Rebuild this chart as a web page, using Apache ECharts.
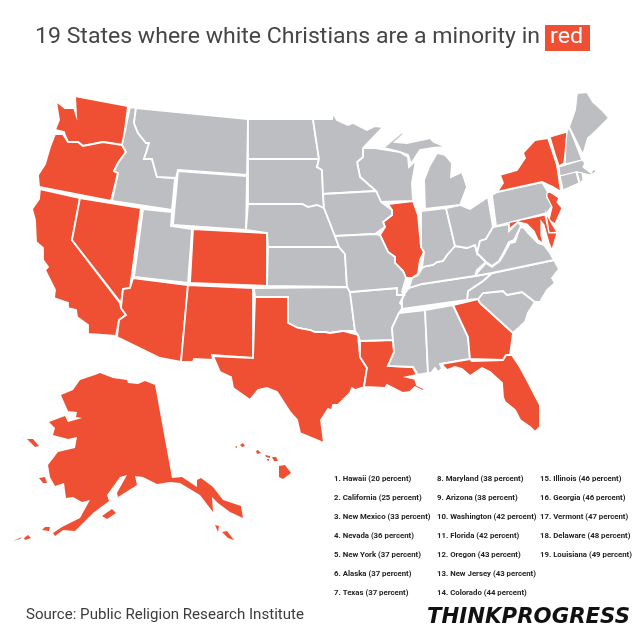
<!DOCTYPE html>
<html>
<head>
<meta charset="utf-8">
<style>html,body{margin:0;padding:0;background:#fff}#chart{width:638px;height:635px}</style>
<script src="https://cdn.jsdelivr.net/npm/echarts@6/dist/echarts.min.js"></script>
</head>
<body>
<div id="chart"></div>
<script>
// ranking shown in the list at bottom right
const rankedStates = ['Hawaii','California','New Mexico','Nevada','New York','Alaska','Texas','Maryland','Arizona','Washington','Florida','Oregon','New Jersey','Colorado','Illinois','Georgia','Vermont','Delaware','Louisiana'];
const percents = [20,25,33,36,37,37,37,38,38,42,42,43,43,44,46,46,47,48,49];
const titleText = '19 States where white Christians are a minority in';
const sourceText = 'Source: Public Religion Research Institute';
const RED = '#EF5033';
const GREY = '#BDBEC2';

// outlines, units are the picture's own pixels
const stateShapes = {
  Washington: [[[75,96],[128,106],[123,145],[103,142],[83,146],[78,142],[68,142],[65,135],[64,132],[55,130],[59,120],[56,101],[65,108],[74,108],[76,114]]],
  Oregon: [[[55,134],[63,134],[68,142],[78,142],[83,146],[103,142],[122,145],[126,152],[118,163],[114,171],[118,173],[111,201],[39,187],[38,175],[45,164],[50,147]]],
  California: [[[40,189],[80,198],[72,240],[120,303],[121,308],[126,315],[119,320],[116,336],[88,334],[88,325],[77,317],[76,310],[68,308],[68,303],[54,298],[55,290],[45,270],[48,267],[43,260],[43,248],[36,242],[35,220],[32,209],[39,199]]],
  Nevada: [[[80,198],[141,208],[130,288],[123,289],[121,303],[72,240]]],
  Arizona: [[[133,278],[188,285],[181,362],[160,358],[117,337],[116,336],[119,320],[126,315],[121,308],[123,289],[130,288]]],
  'New Mexico': [[[188,285],[253,288],[253,358],[212,355],[213,360],[194,359],[193,362],[181,362]]],
  Colorado: [[[193,229],[267,233],[267,286],[190,283]]],
  Utah: [[[143,209],[172,212],[171,226],[192,229],[188,283],[134,277]]],
  Wyoming: [[[178,171],[247,176],[246,230],[173,225]]],
  Idaho: [[[130,107],[136,108],[134,123],[138,133],[146,143],[149,143],[147,150],[144,159],[152,159],[157,177],[175,178],[172,210],[112,201],[118,173],[114,171],[118,163],[126,152],[122,145]]],
  Montana: [[[136,108],[248,119],[247,175],[178,170],[176,178],[157,177],[152,159],[144,159],[147,150],[149,143],[146,143],[138,133],[134,123]]],
  'North Dakota': [[[248,119],[313,119],[315,133],[319,159],[248,159]]],
  'South Dakota': [[[248,159],[319,159],[317,167],[322,170],[323,194],[324,208],[320,207],[308,207],[302,204],[248,204]]],
  Nebraska: [[[248,204],[302,204],[308,207],[317,205],[324,208],[335,236],[339,247],[268,247],[267,233],[246,230]]],
  Kansas: [[[268,247],[339,247],[345,254],[347,287],[267,286]]],
  Oklahoma: [[[254,288],[347,287],[350,292],[355,331],[343,331],[330,333],[325,332],[315,332],[310,330],[298,328],[288,323],[288,297],[255,297]]],
  Texas: [[[255,297],[288,297],[288,323],[298,328],[310,330],[315,332],[325,332],[330,333],[343,331],[358,335],[360,357],[367,368],[364,387],[355,390],[352,388],[350,393],[338,405],[333,405],[332,410],[328,409],[323,417],[321,420],[324,443],[300,433],[297,420],[290,412],[277,392],[267,388],[258,390],[250,400],[233,388],[231,377],[220,372],[213,356],[253,358]]],
  Louisiana: [[[360,341],[393,340],[394,352],[388,366],[413,367],[417,375],[407,377],[415,379],[417,385],[425,389],[423,391],[415,387],[410,392],[403,393],[397,390],[387,385],[385,388],[364,387],[367,368],[360,357]]],
  Arkansas: [[[350,292],[397,288],[397,295],[404,295],[400,303],[403,307],[399,313],[392,328],[393,340],[360,341],[358,335],[355,331]]],
  Mississippi: [[[425,310],[428,373],[418,375],[413,367],[388,366],[394,352],[392,328],[399,313]]],
  Alabama: [[[425,310],[453,305],[468,337],[470,359],[440,364],[442,369],[438,372],[435,368],[431,373],[428,373]]],
  Georgia: [[[453,305],[478,299],[480,303],[513,333],[510,355],[506,355],[503,360],[470,359],[468,337]]],
  Florida: [[[441,364],[470,359],[472,361],[503,360],[506,355],[512,355],[520,367],[527,380],[540,405],[540,427],[535,432],[530,427],[520,420],[515,410],[505,402],[503,397],[502,383],[490,372],[482,368],[470,376],[462,369],[455,367],[447,370]]],
  'South Carolina': [[[478,299],[483,293],[503,291],[507,295],[522,292],[535,302],[528,313],[525,322],[513,333],[480,303]]],
  'North Carolina': [[[492,273],[554,260],[559,269],[552,278],[555,283],[547,290],[540,302],[535,302],[522,292],[507,295],[503,291],[483,293],[478,299],[467,300],[468,291],[483,281]]],
  Tennessee: [[[409,288],[422,284],[475,276],[492,273],[483,281],[468,291],[467,300],[402,309],[402,300],[405,293]]],
  Kentucky: [[[409,288],[412,278],[418,275],[422,268],[426,266],[433,265],[437,262],[443,261],[447,255],[455,246],[467,248],[475,245],[477,253],[486,262],[477,270],[475,276],[422,284]]],
  Illinois: [[[388,204],[413,201],[418,215],[421,247],[424,252],[420,260],[418,274],[412,278],[406,278],[403,271],[395,263],[395,257],[388,252],[380,235],[385,227],[383,222],[392,215],[392,210]]],
  Indiana: [[[421,211],[446,208],[455,246],[447,255],[443,261],[437,262],[433,265],[426,266],[422,268],[424,252],[421,247]]],
  Ohio: [[[446,208],[460,205],[470,209],[488,197],[493,227],[486,239],[480,241],[477,253],[475,245],[467,248],[455,246]]],
  Michigan: [[[425,209],[424,180],[430,165],[437,153],[445,155],[452,163],[451,177],[462,172],[467,187],[460,205]],[[383,148],[402,132],[404,134],[395,142],[407,143],[430,138],[434,142],[446,147],[433,148],[420,150],[411,164],[408,155],[397,151]]],
  Wisconsin: [[[375,148],[400,152],[408,157],[409,167],[416,160],[412,183],[413,201],[381,202],[376,191],[360,177],[357,162],[363,157],[363,148]]],
  Minnesota: [[[313,119],[332,119],[333,113],[337,120],[348,125],[353,123],[367,130],[375,126],[383,127],[363,148],[363,157],[357,162],[360,177],[376,191],[323,194],[322,170],[317,167],[319,159],[315,133]]],
  Iowa: [[[323,194],[376,191],[381,202],[392,210],[392,215],[383,222],[385,227],[375,234],[335,236],[324,208]]],
  Missouri: [[[335,236],[375,234],[380,235],[388,252],[395,257],[395,263],[403,271],[406,278],[402,292],[404,295],[397,295],[397,288],[350,292],[347,287],[345,254],[339,247]]],
  Pennsylvania: [[[492,195],[497,192],[542,182],[548,192],[547,197],[553,205],[547,213],[496,226]]],
  'New York': [[[497,192],[503,183],[500,175],[517,170],[525,158],[523,153],[535,140],[548,138],[557,165],[561,192],[553,187],[542,182]],[[560,197],[577,187],[567,195]]],
  Vermont: [[[550,137],[567,132],[566,143],[564,163],[559,166],[555,154]]],
  'New Hampshire': [[[569,127],[582,160],[565,164],[566,143],[567,132]]],
  Maine: [[[569,127],[575,110],[577,93],[587,92],[593,102],[602,110],[609,118],[595,132],[588,138],[583,155]]],
  Massachusetts: [[[559,167],[582,160],[585,163],[583,167],[591,173],[594,168],[596,172],[590,175],[582,173],[577,172],[560,176]]],
  Connecticut: [[[560,176],[576,172],[579,183],[563,190]]],
  'Rhode Island': [[[577,172],[582,173],[583,180],[580,183]]],
  'New Jersey': [[[547,193],[550,192],[559,198],[557,202],[562,208],[558,217],[555,224],[549,220],[552,207],[547,197]]],
  Delaware: [[[546,213],[552,224],[557,232],[549,233]]],
  Maryland: [[[507,223],[545,215],[549,233],[557,233],[552,250],[549,243],[547,236],[544,225],[541,221],[541,235],[543,243],[538,240],[534,231],[527,224],[518,222],[509,229]]],
  Virginia: [[[475,276],[478,272],[486,263],[492,267],[500,261],[505,252],[510,243],[515,242],[520,227],[524,228],[528,233],[538,243],[544,245],[550,253],[554,260],[492,273]]],
  'West Virginia': [[[493,227],[509,224],[509,231],[518,222],[521,226],[514,240],[509,242],[504,252],[499,261],[492,266],[486,262],[477,253],[480,241],[486,239]]],
  Alaska: [[[100,373],[113,378],[127,380],[128,383],[138,384],[145,381],[155,385],[172,478],[182,477],[197,487],[197,480],[201,478],[213,487],[223,500],[241,506],[243,518],[230,512],[218,503],[212,497],[213,512],[200,495],[180,483],[170,482],[157,484],[143,477],[135,476],[137,485],[118,497],[117,493],[127,475],[120,477],[107,495],[109,501],[93,513],[83,523],[75,531],[63,530],[55,536],[53,533],[62,527],[80,518],[90,500],[82,502],[73,497],[66,498],[64,483],[55,486],[50,477],[48,465],[58,452],[75,448],[77,437],[68,439],[53,435],[55,428],[49,422],[65,416],[68,422],[82,418],[76,417],[77,412],[68,411],[61,395],[73,390],[80,380],[95,375]],
    [[27,439],[33,439],[39,446],[35,447]],[[39,478],[45,477],[47,483],[43,483]],[[102,516],[112,509],[116,513],[107,519]],[[42,530],[45,527],[50,527],[49,531]],[[24,538],[28,535],[31,538],[25,540]],[[13,541],[22,537],[20,539]],[[215,525],[219,526],[218,532]],[[222,532],[227,531],[234,540],[228,538]]],
  Hawaii: [[[279,466],[285,465],[291,473],[283,479],[279,477]],[[272,457],[276,457],[278,461],[274,461]],[[265,455],[270,456],[270,458],[266,457]],[[267,459],[269,459],[269,461],[267,460]],[[256,451],[258,450],[261,453],[257,454]],[[240,445],[243,443],[245,446],[242,447]],[[235,447],[237,446],[237,448]]]
};

const borderless = ['Alaska','Hawaii'];
const thinBorders = ['Delaware','Maryland','New Jersey','Rhode Island','Connecticut','Massachusetts','Vermont','New Hampshire'];

const buildGeoJson = () => ({
  type: 'FeatureCollection',
  features: Object.keys(stateShapes).map(name => ({
    type: 'Feature',
    properties: {name: name},
    geometry: {type: 'MultiPolygon', coordinates: stateShapes[name].map(ring => [ring])}
  }))
});

const borderFor = (name) => {
  if (borderless.includes(name)) return 0;
  return thinBorders.includes(name) ? 1.2 : 1.8;
};

const buildMapData = () => Object.keys(stateShapes).map(name => {
  const idx = rankedStates.indexOf(name);
  return {
    name: name,
    value: idx >= 0 ? percents[idx] : null,
    itemStyle: {
      areaColor: idx >= 0 ? RED : GREY,
      borderWidth: borderFor(name)
    }
  };
});

// squeeze a text into the width it has in the reference
const fitScale = (text, font, width) => {
  const ctx = document.createElement('canvas').getContext('2d');
  ctx.font = font;
  return width / ctx.measureText(text).width;
};

const titleFont = '400 22.5px Roboto';
const sourceFont = '400 15.5px Roboto';
const logoFont = 'italic 700 20.5px "DejaVu Sans"';
const listFont = '700 7.8px Roboto';

const buildListText = () => rankedStates.map((name, i) => {
  const col = i < 7 ? 0 : (i < 14 ? 1 : 2);
  const row = i < 7 ? i : (i < 14 ? i - 7 : i - 14);
  return {
    type: 'text',
    x: [334, 437, 540][col],
    y: 479.5 + row * 19,
    style: {
      text: (i + 1) + '. ' + name + ' (' + percents[i] + ' percent)',
      font: listFont,
      fill: '#222',
      textVerticalAlign: 'middle'
    }
  };
});

const chart = echarts.init(document.getElementById('chart'));
echarts.registerMap('usa', buildGeoJson());

chart.setOption({
  animation: false,
  backgroundColor: '#fff',
  series: [{
    type: 'map',
    map: 'usa',
    silent: true,
    projection: {project: p => p, unproject: p => p},
    boundingCoords: [[0, 0], [638, 635]],
    left: 0,
    top: 0,
    width: 638,
    height: 635,
    roam: false,
    label: {show: false},
    emphasis: {disabled: true},
    select: {disabled: true},
    itemStyle: {areaColor: GREY, borderColor: '#fff', borderWidth: 1.8},
    data: buildMapData()
  }],
  graphic: [
    {type: 'text', x: 35, y: 37, scaleX: fitScale(titleText, titleFont, 505), style: {text: titleText, font: titleFont, fill: '#454547', textVerticalAlign: 'middle'}},
    {type: 'rect', shape: {x: 545, y: 25, width: 45, height: 26}, style: {fill: RED}},
    {type: 'text', x: 550, y: 37, scaleX: fitScale('red', titleFont, 33), style: {text: 'red', font: titleFont, fill: '#fff', textVerticalAlign: 'middle'}},
    {type: 'text', x: 26, y: 615, scaleX: fitScale(sourceText, sourceFont, 278), style: {text: sourceText, font: sourceFont, fill: '#3c3c3e', textVerticalAlign: 'middle'}},
    {type: 'text', x: 427, y: 618, scaleX: fitScale('THINKPROGRESS', logoFont, 203), style: {text: 'THINKPROGRESS', font: logoFont, fill: '#111', textVerticalAlign: 'middle'}}
  ].concat(buildListText())
});
</script>
</body>
</html>
